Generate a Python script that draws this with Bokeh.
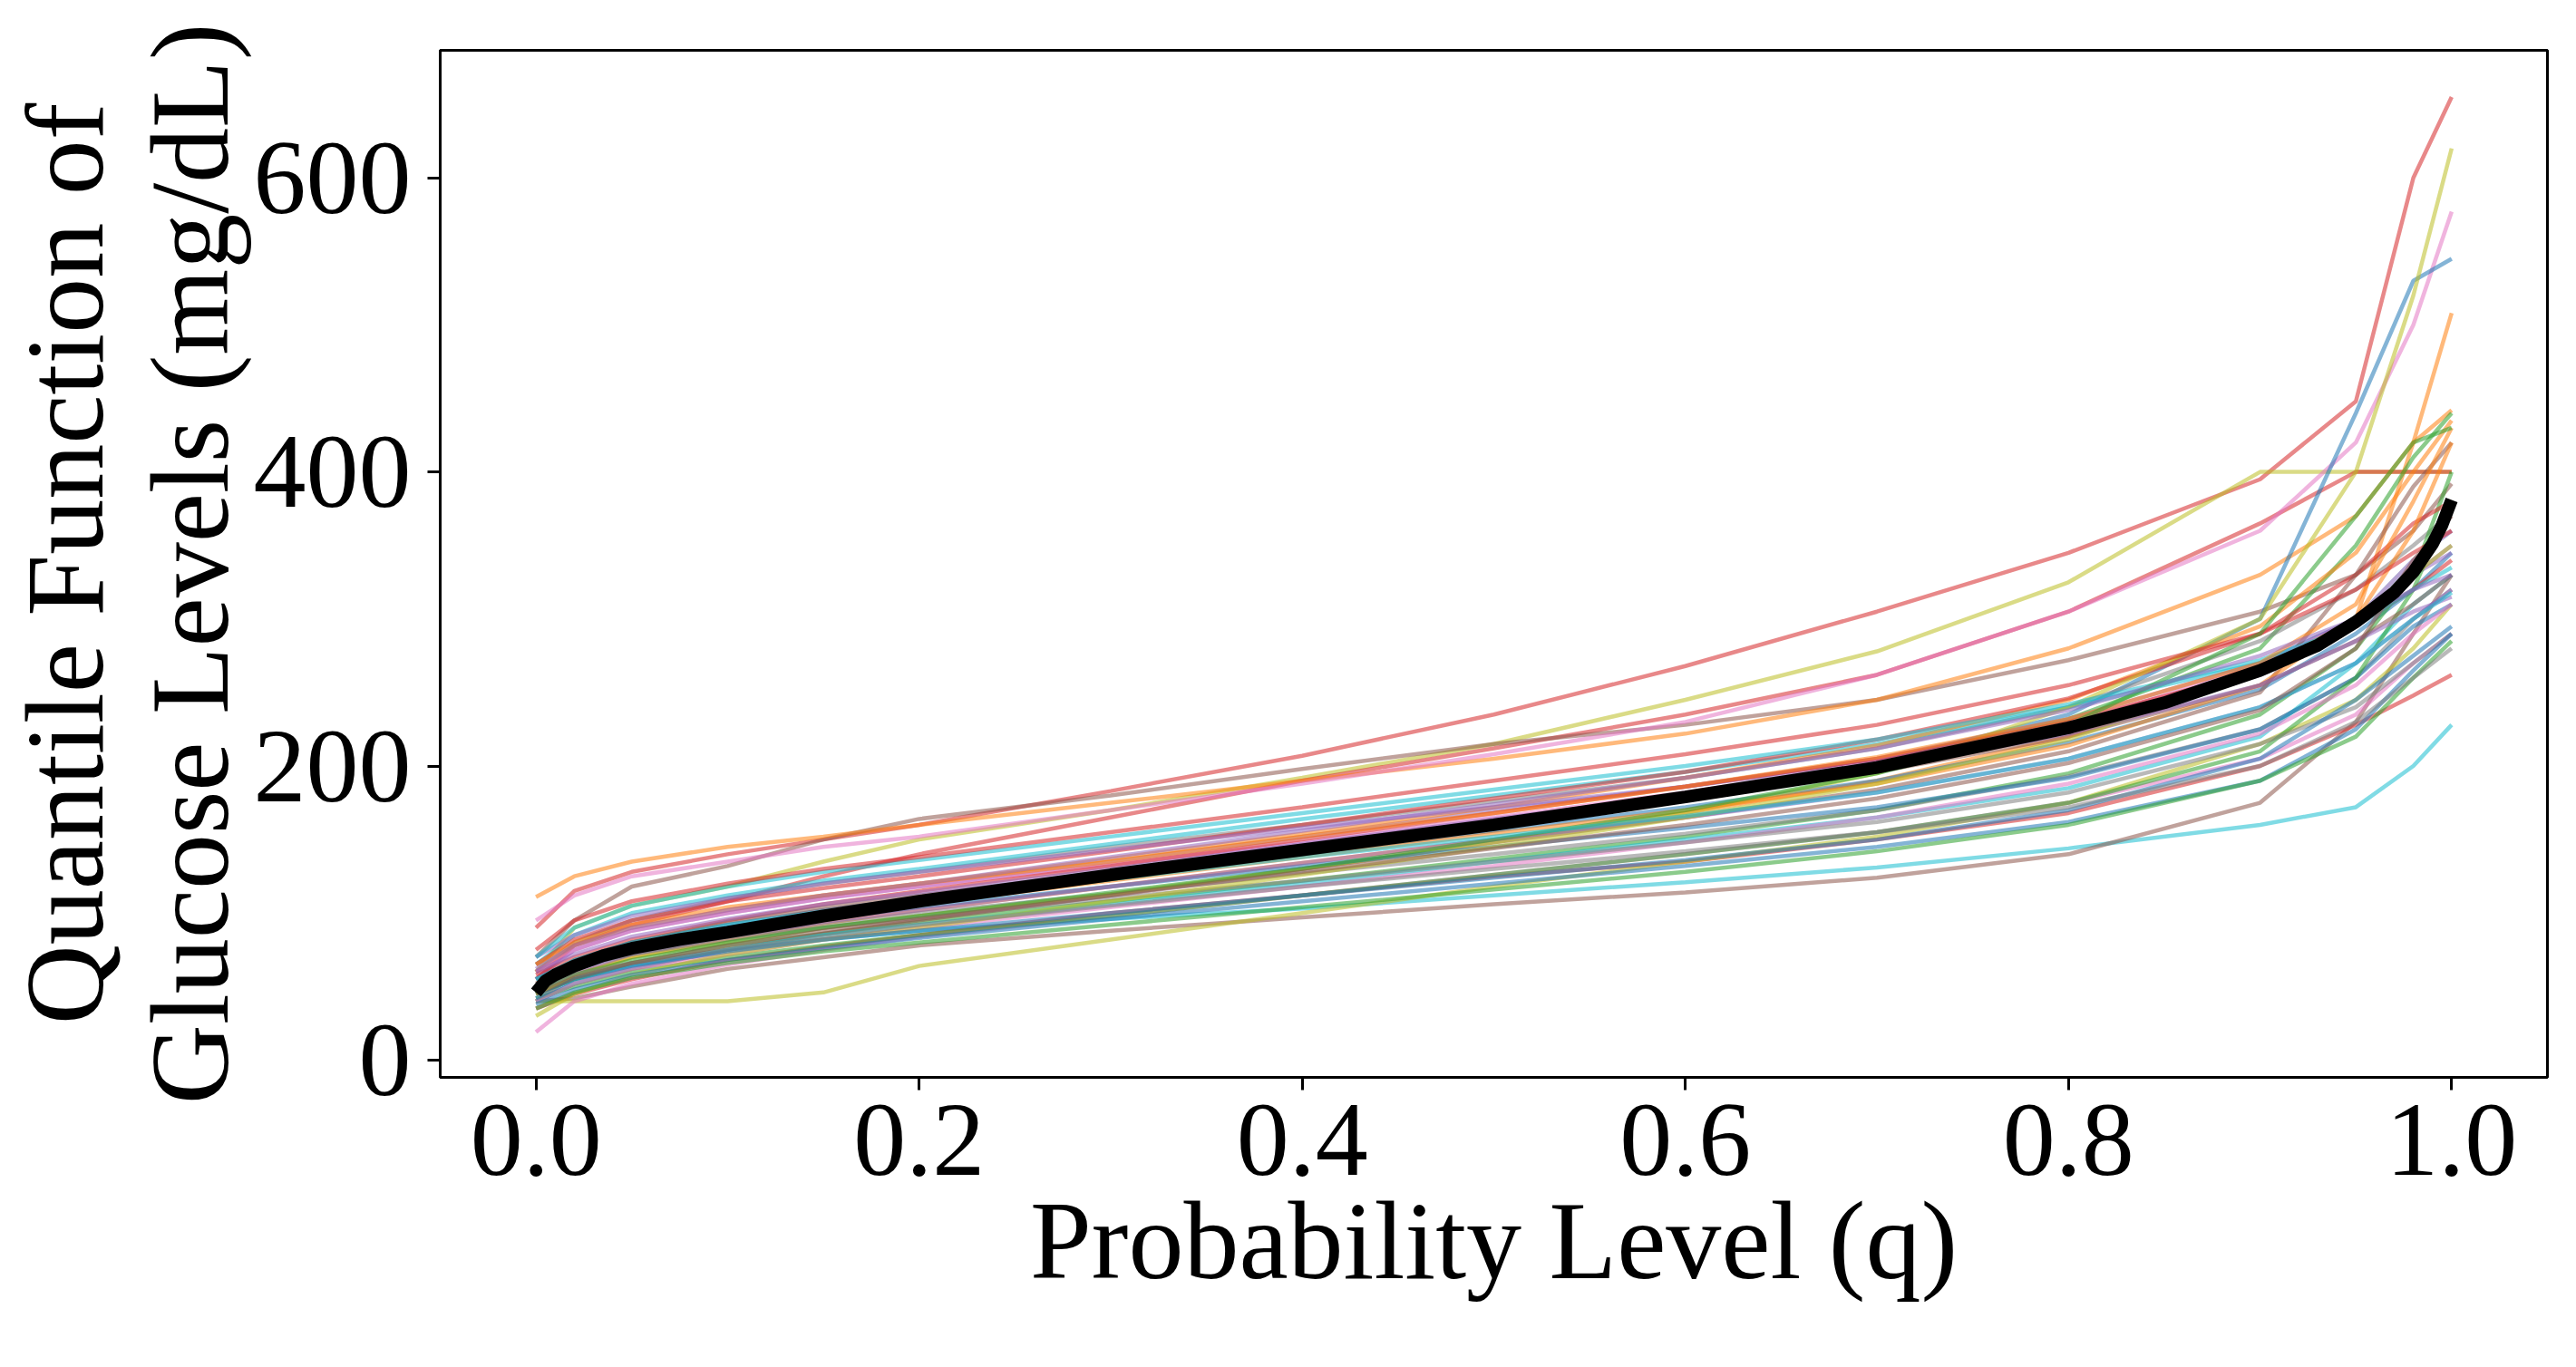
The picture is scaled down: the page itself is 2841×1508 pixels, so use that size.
from bokeh.plotting import figure
from bokeh.models import Range1d, FixedTicker, LinearAxis
from bokeh.embed import file_html
from bokeh.resources import INLINE

# probability levels at which each subject's quantile curve was read
q_levels = [0.0, 0.02, 0.05, 0.1, 0.15, 0.2, 0.3, 0.4, 0.5, 0.6, 0.7, 0.8, 0.9, 0.95, 0.98, 1.0]

# tab10 palette
C = {"blue": "#1f77b4", "orange": "#ff7f0e", "green": "#2ca02c", "red": "#d62728",
     "purple": "#9467bd", "brown": "#8c564b", "pink": "#e377c2", "gray": "#7f7f7f",
     "olive": "#bcbd22", "cyan": "#17becf"}

# individual quantile curves (mg/dL), one per subject
curve_colors = [
    "red", "olive", "red", "brown", "orange", "pink", "blue", "orange", "cyan", "brown",
    "red", "olive", "pink", "green", "gray", "cyan", "purple", "blue", "orange", "green",
    "red", "purple", "brown", "pink", "gray", "olive", "cyan", "blue", "orange", "green",
    "red", "purple", "brown", "pink", "gray", "olive", "cyan", "blue", "orange", "green",
    "red", "purple", "green", "blue", "gray", "cyan", "purple", "brown",
]
curve_values = [
    [90, 115, 128, 140, 150, 160, 183, 207, 235, 268, 305, 345, 395, 448, 600, 655],
    [60, 90, 105, 118, 135, 150, 170, 192, 215, 245, 278, 325, 400, 400, 400, 400],
    [55, 78, 92, 108, 125, 140, 165, 190, 212, 235, 262, 305, 365, 400, 400, 400],
    [70, 95, 118, 132, 150, 164, 180, 198, 215, 228, 245, 272, 305, 330, 360, 392],
    [111, 125, 135, 145, 152, 160, 175, 190, 205, 222, 245, 280, 330, 370, 420, 442],
    [95, 112, 125, 135, 145, 152, 170, 188, 208, 230, 262, 305, 360, 420, 500, 577],
    [45, 62, 75, 88, 100, 110, 128, 145, 162, 180, 202, 235, 300, 440, 530, 545],
    [40, 58, 70, 82, 93, 102, 118, 134, 150, 168, 190, 220, 265, 300, 420, 508],
    [45, 55, 65, 75, 82, 88, 96, 103, 112, 121, 131, 144, 160, 172, 200, 228],
    [40, 42, 50, 62, 70, 78, 88, 97, 106, 114, 124, 140, 175, 230, 290, 330],
    [35, 45, 55, 68, 77, 85, 100, 112, 125, 135, 150, 168, 200, 228, 248, 262],
    [40, 40, 40, 40, 46, 64, 82, 100, 118, 135, 152, 175, 215, 245, 280, 310],
    [19, 40, 52, 65, 75, 84, 98, 112, 126, 140, 155, 175, 205, 235, 270, 290],
    [50, 62, 75, 88, 98, 106, 123, 140, 158, 178, 200, 232, 280, 350, 410, 440],
    [60, 80, 95, 110, 120, 128, 145, 160, 176, 192, 212, 240, 285, 320, 350, 372],
    [65, 85, 100, 112, 122, 130, 147, 164, 180, 196, 215, 240, 270, 300, 340, 360],
    [55, 75, 88, 100, 110, 118, 135, 152, 170, 186, 205, 232, 270, 300, 330, 350],
    [50, 68, 80, 92, 102, 110, 125, 140, 156, 172, 190, 216, 252, 290, 320, 345],
    [60, 78, 90, 102, 112, 120, 137, 154, 172, 192, 214, 245, 295, 345, 400, 435],
    [45, 55, 66, 78, 86, 94, 108, 122, 137, 152, 170, 195, 235, 280, 330, 400],
    [65, 82, 95, 108, 117, 125, 142, 160, 178, 196, 218, 246, 290, 330, 365, 380],
    [70, 85, 98, 110, 120, 128, 143, 158, 172, 186, 203, 226, 262, 295, 330, 345],
    [40, 52, 62, 75, 86, 95, 112, 130, 148, 165, 184, 210, 250, 330, 390, 420],
    [60, 75, 88, 100, 110, 118, 133, 148, 165, 182, 202, 228, 268, 300, 340, 360],
    [50, 62, 72, 84, 92, 100, 113, 127, 140, 154, 170, 193, 225, 260, 300, 320],
    [45, 58, 70, 80, 90, 98, 113, 130, 148, 168, 195, 240, 300, 400, 520, 620],
    [40, 52, 63, 75, 85, 92, 106, 120, 135, 150, 165, 185, 220, 270, 310, 330],
    [55, 66, 76, 88, 96, 104, 118, 132, 145, 158, 172, 192, 225, 260, 295, 310],
    [50, 64, 76, 88, 98, 106, 122, 138, 154, 170, 188, 214, 255, 300, 360, 420],
    [42, 50, 60, 70, 78, 85, 98, 112, 126, 140, 155, 175, 210, 260, 320, 380],
    [58, 70, 82, 95, 106, 115, 132, 150, 168, 186, 205, 230, 265, 295, 320, 340],
    [48, 60, 72, 84, 94, 102, 118, 134, 150, 165, 182, 205, 240, 270, 300, 320],
    [52, 66, 80, 94, 104, 112, 128, 145, 162, 178, 196, 220, 255, 285, 310, 330],
    [40, 52, 62, 72, 82, 90, 104, 118, 132, 148, 165, 188, 222, 255, 290, 310],
    [55, 64, 72, 82, 90, 97, 110, 122, 135, 148, 162, 182, 215, 240, 270, 290],
    [30, 45, 58, 72, 82, 90, 108, 126, 145, 165, 188, 218, 265, 300, 330, 350],
    [70, 90, 105, 118, 128, 136, 152, 168, 184, 200, 218, 242, 272, 295, 320, 335],
    [38, 48, 58, 68, 76, 83, 96, 108, 120, 132, 145, 162, 190, 225, 265, 290],
    [65, 80, 92, 104, 112, 120, 135, 152, 168, 186, 206, 232, 270, 310, 380, 430],
    [35, 46, 56, 66, 74, 80, 92, 104, 116, 128, 142, 160, 190, 220, 260, 285],
    [75, 95, 108, 120, 130, 138, 155, 172, 190, 208, 228, 255, 290, 320, 345, 360],
    [60, 72, 84, 96, 106, 114, 130, 147, 164, 180, 198, 222, 255, 285, 305, 315],
    [48, 58, 68, 80, 90, 98, 114, 130, 150, 170, 195, 228, 290, 370, 420, 430],
    [42, 55, 64, 74, 82, 88, 100, 112, 124, 136, 150, 170, 205, 245, 275, 295],
    [48, 58, 66, 75, 84, 92, 105, 118, 130, 142, 155, 172, 200, 230, 260, 280],
    [55, 68, 80, 92, 101, 108, 123, 138, 152, 166, 182, 205, 240, 270, 300, 318],
    [62, 78, 90, 102, 112, 120, 138, 156, 174, 192, 212, 238, 275, 300, 320, 330],
    [45, 56, 66, 78, 88, 96, 112, 128, 144, 160, 178, 202, 238, 280, 340, 370],
]

# mean (barycenter) quantile function
mean_q = [0.0, 0.005, 0.01, 0.02, 0.035, 0.05, 0.075, 0.1, 0.15, 0.2, 0.3, 0.4, 0.5,
          0.6, 0.7, 0.8, 0.85, 0.9, 0.93, 0.95, 0.97, 0.98, 0.99, 0.995, 1.0]
mean_values = [46, 54, 58, 64, 71, 76, 82, 87, 98, 108, 126, 143, 160,
               179, 199, 226, 243, 265, 282, 298, 318, 332, 351, 364, 381]

x_ticks = [0.0, 0.2, 0.4, 0.6, 0.8, 1.0]
x_tick_labels = ["0.0", "0.2", "0.4", "0.6", "0.8", "1.0"]
y_ticks = [0, 200, 400, 600]

FONT = "Liberation Serif"
TICK_SIZE = "116px"
LABEL_SIZE = "122px"

p = figure(frame_width=2324, frame_height=1133, output_backend="svg", toolbar_location=None,
           x_range=Range1d(-0.05, 1.05), y_range=Range1d(-11.75, 686.75),
           min_border_left=478, min_border_right=23, min_border_top=55, min_border_bottom=300)
p.background_fill_color = "white"
p.border_fill_color = "white"
p.xgrid.visible = False
p.ygrid.visible = False
p.outline_line_color = "black"
p.outline_line_width = 3

xs = [q_levels for _ in curve_values]
p.multi_line(xs=xs, ys=curve_values, line_color=[C[c] for c in curve_colors],
             line_alpha=0.55, line_width=4.5)
p.line(mean_q, mean_values, line_color="black", line_width=14)

for ax in (p.xaxis[0], p.yaxis[0]):
    ax.axis_line_color = None
    ax.major_tick_line_color = "black"
    ax.major_tick_line_width = 3
    ax.major_tick_out = 14
    ax.major_tick_in = 0
    ax.minor_tick_line_color = None
    ax.major_label_text_font = FONT
    ax.major_label_text_font_size = TICK_SIZE
    ax.major_label_text_color = "black"
    ax.axis_label_text_font = FONT
    ax.axis_label_text_font_size = LABEL_SIZE
    ax.axis_label_text_font_style = "normal"
    ax.axis_label_text_color = "black"

p.xaxis[0].ticker = FixedTicker(ticks=x_ticks)
p.xaxis[0].major_label_overrides = {t: s for t, s in zip(x_ticks, x_tick_labels)}
p.xaxis[0].major_label_standoff = 16
p.xaxis[0].axis_label = "Probability Level (q)"
p.xaxis[0].axis_label_standoff = 2

p.yaxis[0].ticker = FixedTicker(ticks=y_ticks)
p.yaxis[0].major_label_standoff = 18
p.yaxis[0].axis_label = "Glucose Levels (mg/dL)"
p.yaxis[0].axis_label_standoff = 0

outer = LinearAxis(ticker=FixedTicker(ticks=[]), axis_label="Quantile Function of")
outer.axis_line_color = None
outer.major_tick_line_color = None
outer.minor_tick_line_color = None
outer.major_tick_out = 0
outer.major_tick_in = 0
outer.major_label_standoff = 0
outer.major_label_text_font_size = "1px"
outer.axis_label_standoff = 0
outer.axis_label_text_font = FONT
outer.axis_label_text_font_size = LABEL_SIZE
outer.axis_label_text_font_style = "normal"
outer.axis_label_text_color = "black"
p.add_layout(outer, "left")

open("out.html", "w").write(file_html(p, INLINE))
